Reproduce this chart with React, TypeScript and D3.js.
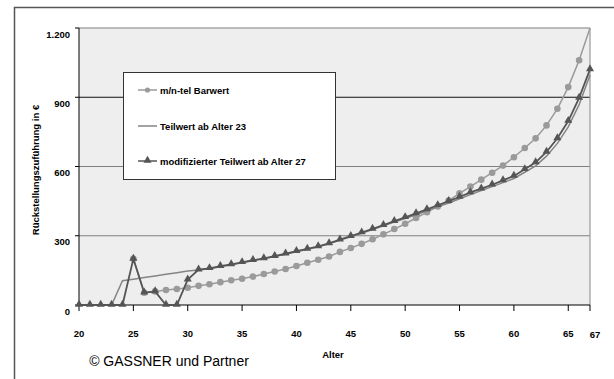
import React from "react";
import * as d3 from "d3";

const ages: number[] = d3.range(20, 68);
const xTickLabels: number[] = [20, 25, 30, 35, 40, 45, 50, 55, 60, 65, 67];
const yTicks: number[] = [0, 300, 600, 900, 1200];
const yTickLabels: string[] = ["0", "300", "600", "900", "1.200"];

// m/n-tel Barwert (starts at age 25)
const barwertAges: number[] = d3.range(25, 68);
const barwert: number[] = [
  200, 53, 59, 65, 69, 75, 83, 90, 99, 107, 114, 123, 134, 145, 156, 169, 183, 196, 210, 230,
  247, 265, 285, 306, 329, 352, 377, 402, 427, 452, 484, 513, 543, 573, 604, 640, 680, 722,
  778, 850, 944, 1060, 1200,
];
// Teilwert ab Alter 23 (ages 20..67)
const teilwert: number[] = [
  0, 0, 0, 0, 105, 112, 119, 126, 133, 140, 147, 152, 157, 166, 174, 183, 192, 200, 210, 220,
  231, 241, 252, 265, 281, 296, 311, 327, 343, 359, 375, 391, 408, 425, 442, 460, 478, 496,
  513, 530, 548, 575, 603, 645, 700, 772, 868, 996,
];
// modifizierter Teilwert ab Alter 27 (ages 20..67)
const modTeilwert: number[] = [
  0, 0, 0, 0, 0, 200, 53, 59, 0, 0, 110, 153, 159, 168, 176, 185, 194, 202, 212, 222, 233,
  243, 254, 267, 283, 298, 314, 330, 346, 363, 380, 397, 414, 432, 450, 468, 488, 504, 521,
  540, 559, 588, 618, 663, 722, 797, 897, 1021,
];

const legendLabels: string[] = [
  "m/n-tel Barwert",
  "Teilwert ab Alter 23",
  "modifizierter Teilwert ab Alter 27",
];

const W = 614;
const H = 379;
const L = 79, R = 590, T = 28, B = 305;
const FONT = "'Liberation Sans', Arial, Helvetica, sans-serif";

export default function App() {
  const x = d3.scaleLinear().domain([20, 67]).range([L, R]);
  const y = d3.scaleLinear().domain([0, 1200]).range([B, T]);

  const lineGen = d3
    .line<[number, number]>()
    .x((d) => x(d[0]))
    .y((d) => y(d[1]));

  const bwPts: [number, number][] = barwertAges.map((a, i) => [a, barwert[i]]);
  const twPts: [number, number][] = ages.map((a, i) => [a, teilwert[i]]);
  const mtPts: [number, number][] = ages.map((a, i) => [a, modTeilwert[i]]);

  const tri = d3.symbol().type(d3.symbolTriangle).size(28)() as string;

  const cBw = "#9a9a9a";
  const cTw = "#858585";
  const cMt = "#555555";

  const legendRows = [90, 126, 161];

  return (
    <svg
      width={W}
      height={H}
      style={{ position: "absolute", left: 0, top: 0, background: "#fff" }}
      fontFamily={FONT}
    >
      {/* outer frame */}
      <path d={`M14.5,${H} L14.5,7.5 L${W},7.5`} fill="none" stroke="#555" strokeWidth={1.5} />

      {/* plot background */}
      <rect x={L} y={T} width={R - L} height={B - T} fill="#eeeeee" />

      {/* gridlines */}
      {yTicks.slice(1).map((v) => (
        <line
          key={v}
          x1={L}
          x2={R}
          y1={y(v)}
          y2={y(v)}
          stroke={v === 900 ? "#111" : "#808080"}
          strokeWidth={1.2}
        />
      ))}
      <line x1={R} x2={R} y1={T} y2={B} stroke="#999" strokeWidth={1.2} />

      {/* axes */}
      <line x1={L} x2={L} y1={T} y2={B} stroke="#000" strokeWidth={1} />
      <line x1={L} x2={R} y1={B} y2={B} stroke="#000" strokeWidth={1.2} />
      {yTicks.map((v) => (
        <line key={"yt" + v} x1={L - 4} x2={L} y1={y(v)} y2={y(v)} stroke="#000" />
      ))}
      {xTickLabels.map((v) => (
        <line key={"xt" + v} x1={x(v)} x2={x(v)} y1={B} y2={B + 6} stroke="#000" />
      ))}

      {/* tick labels */}
      {yTicks.map((v, i) => (
        <text
          key={"yl" + v}
          x={L - 9}
          y={y(v) + 6}
          textAnchor="end"
          dominantBaseline="central"
          fontSize={9.5}
          fontWeight="bold"
        >
          {yTickLabels[i]}
        </text>
      ))}
      {xTickLabels.map((v) => (
        <text
          key={"xl" + v}
          x={x(v) + (v === 67 ? 5 : 0)}
          y={v === 67 ? 334 : 333}
          textAnchor="middle"
          dominantBaseline="central"
          fontSize={9.5}
          fontWeight="bold"
        >
          {v}
        </text>
      ))}

      {/* axis titles */}
      <text
        transform={`translate(35,170) rotate(-90)`}
        textAnchor="middle"
        dominantBaseline="central"
        fontSize={9.5}
        fontWeight="bold"
      >
        Rückstellungszuführung in €
      </text>
      <text x={333} y={354} textAnchor="middle" dominantBaseline="central" fontSize={9.5} fontWeight="bold">
        Alter
      </text>
      <text x={169} y={361} textAnchor="middle" dominantBaseline="central" fontSize={14}>
        © GASSNER und Partner
      </text>

      {/* series */}
      <g>
        <path d={lineGen(bwPts) || ""} fill="none" stroke={cBw} strokeWidth={1.5} />
        {bwPts.slice(0, -1).map((p) => (
          <circle key={"c" + p[0]} cx={x(p[0])} cy={y(p[1])} r={3.3} fill={cBw} />
        ))}
        <path d={lineGen(twPts) || ""} fill="none" stroke={cTw} strokeWidth={1.5} />
        <path d={lineGen(mtPts) || ""} fill="none" stroke={cMt} strokeWidth={1.8} />
        {mtPts.map((p) => (
          <path
            key={"t" + p[0]}
            d={tri}
            transform={`translate(${x(p[0])},${y(p[1]) - 0.5})`}
            fill={cMt}
          />
        ))}
      </g>

      {/* legend */}
      <rect x={123.5} y={72.5} width={212} height={107} fill="#fff" stroke="#333" strokeWidth={1} />
      {legendLabels.map((lab, i) => {
        const yy = legendRows[i];
        const col = i === 0 ? cBw : i === 1 ? cTw : cMt;
        return (
          <g key={lab}>
            <line x1={138} x2={157} y1={yy} y2={yy} stroke={col} strokeWidth={1.5} />
            {i === 0 && <circle cx={147.5} cy={yy} r={2.6} fill={cBw} />}
            {i === 2 && <path d={tri} transform={`translate(147.5,${yy - 0.5})`} fill={cMt} />}
            <text x={160} y={yy} dominantBaseline="central" fontSize={9.5} fontWeight="bold">
              {lab}
            </text>
          </g>
        );
      })}
    </svg>
  );
}
